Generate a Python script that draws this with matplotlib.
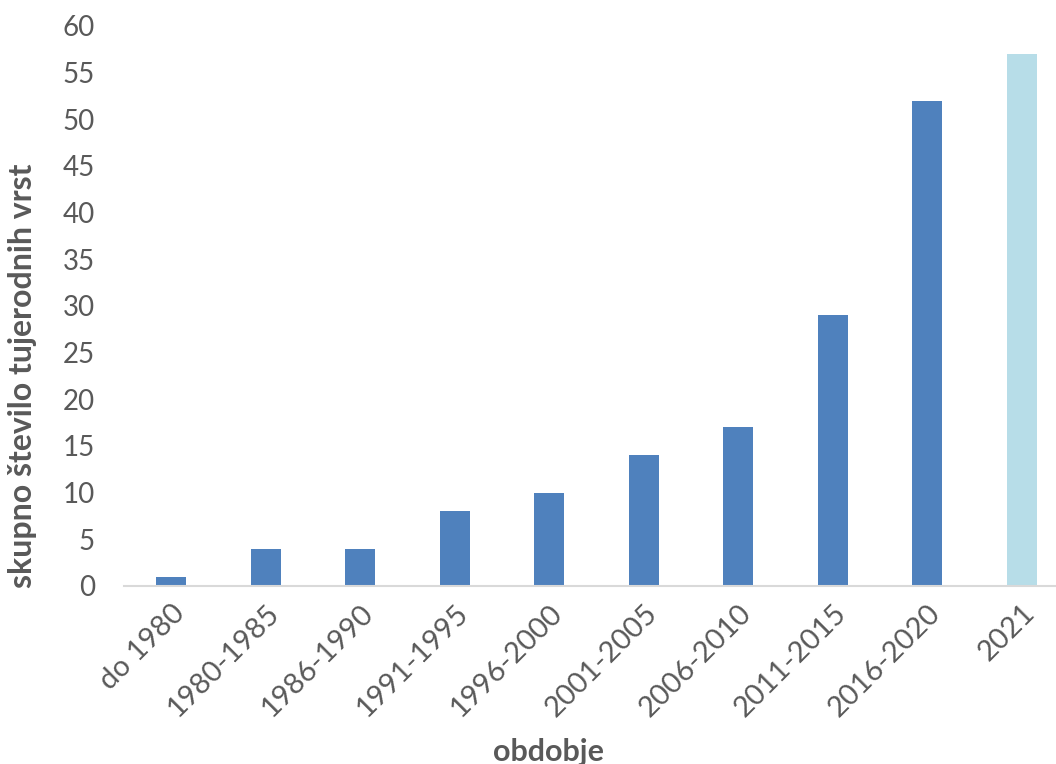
import matplotlib
matplotlib.use('Agg')
import matplotlib.pyplot as plt

# number of alien species per period
periods = ['do 1980', '1980-1985', '1986-1990', '1991-1995', '1996-2000',
           '2001-2005', '2006-2010', '2011-2015', '2016-2020', '2021']
counts = [1, 4, 4, 8, 10, 14, 17, 29, 52, 57]
bar_colors = ['#4F81BD'] * 9 + ['#B7DDE8']

plt.rcParams['font.family'] = ['Lato', 'DejaVu Sans']
grey = '#595959'

fig = plt.figure(figsize=(10.56, 7.64), dpi=100)
ax = fig.add_axes([124 / 1056, 178 / 764, 945 / 1056, 560 / 764])

x = range(len(periods))
ax.bar(x, counts, width=0.32, color=bar_colors)

ax.set_xlim(-0.5, len(periods) - 0.5)
ax.set_ylim(0, 60)
ax.set_yticks(range(0, 61, 5))
ax.set_xticks(list(x))
ax.set_xticklabels(periods, rotation=45, ha='right', rotation_mode='anchor')

ax.tick_params(axis='both', length=0, labelcolor=grey)
ax.tick_params(axis='y', pad=21, labelsize=20)
ax.tick_params(axis='x', pad=10, labelsize=21)

for side in ['top', 'right', 'left']:
    ax.spines[side].set_visible(False)
ax.spines['bottom'].set_color('#D9D9D9')
ax.spines['bottom'].set_linewidth(1.5)

ax.set_ylabel('skupno število tujerodnih vrst', fontsize=23, fontweight='bold',
              color=grey, va='center', ha='center')
ax.yaxis.set_label_coords(-101 / 945, (586 - 376) / 560)
ax.set_xlabel('obdobje', fontsize=22, fontweight='bold', color=grey,
              va='center', ha='center')
ax.xaxis.set_label_coords((548 - 124) / 945, -(752 - 586) / 560)

fig.savefig('out.png', dpi=100)
